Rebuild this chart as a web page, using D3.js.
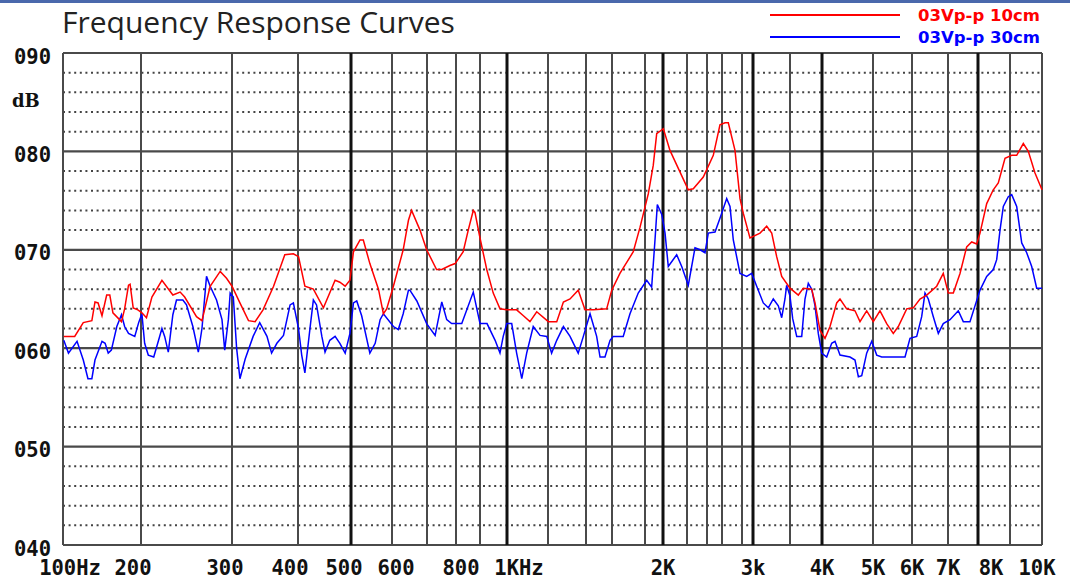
<!DOCTYPE html>
<html>
<head>
<meta charset="utf-8">
<script src="https://cdn.jsdelivr.net/npm/d3@7"></script>
<style>
body { margin: 0; background: #fff; }
svg { display: block; }
</style>
</head>
<body>
<svg id="chart" width="1070" height="580"></svg>
<script>
// frequencies (Hz) of the vertical grid lines, as printed on the sheet
var gridFreqs = [100, 200, 300, 400, 500, 600, 700, 800, 900, 1000,
    1200, 1400, 1600, 1800, 2000, 2200, 2400, 2600, 2800, 3000,
    3500, 4000, 5000, 6000, 7000, 8000, 9000, 10000];
var boldFreqs = [500, 1000, 2000, 3000, 4000, 8000];
var tickFreqs = [100, 200, 300, 400, 500, 600, 800, 1000, 2000, 3000, 4000, 5000, 6000, 7000, 8000, 10000];
var tickNames = ["100Hz", "200", "300", "400", "500", "600", "800", "1KHz", "2K", "3k", "4K", "5K", "6K", "7K", "8K", "10K"];
var dbTicks = [40, 50, 60, 70, 80, 90];
var seriesNames = ["03Vp-p 10cm", "03Vp-p 30cm"];

// [frequency Hz, level dB]
var red10cm = [
    [101, 61.2], [115, 61.2], [126, 62.6], [137, 62.8], [141, 64.7], [145, 64.6], [150, 63.3],
    [156, 65.4], [160, 65.4], [164, 63.6], [175, 62.7], [179, 64.0], [184, 66.4], [186, 66.5],
    [190, 64.1], [196, 63.9], [201, 63.6], [206, 63.1], [212, 65.2], [223, 66.9], [235, 65.4],
    [243, 65.7], [248, 65.2], [261, 63.2], [267, 62.8], [276, 66.3], [287, 67.8], [294, 67.1],
    [300, 66.3], [312, 64.6], [325, 62.8], [335, 62.7], [347, 63.9], [363, 66.3], [380, 69.5],
    [393, 69.6], [401, 69.3], [413, 66.3], [429, 66.0], [448, 64.1], [470, 66.9], [479, 66.7],
    [489, 66.3], [498, 66.9], [506, 69.8], [522, 71.0], [530, 71.0], [546, 68.6], [567, 66.0],
    [579, 63.5], [587, 64.0], [604, 66.3], [632, 70.0], [647, 73.0], [656, 74.0], [680, 72.0],
    [699, 70.0], [733, 68.0], [751, 68.0], [779, 68.4], [797, 68.6], [830, 69.8], [851, 72.0],
    [872, 74.0], [879, 73.8], [900, 71.2], [925, 68.0], [949, 65.6], [974, 64.0], [999, 63.9],
    [1047, 63.9], [1080, 63.3], [1112, 62.7], [1145, 63.7], [1202, 62.7], [1246, 62.7],
    [1281, 64.7], [1316, 65.0], [1359, 65.9], [1395, 63.9], [1456, 63.9], [1559, 64.0],
    [1598, 65.9], [1648, 67.6], [1729, 69.8], [1770, 72.3], [1837, 75.7], [1892, 78.6],
    [1930, 81.8], [2003, 82.3], [2058, 80.1], [2142, 77.9], [2213, 76.1], [2263, 76.2],
    [2363, 77.4], [2484, 79.6], [2573, 82.7], [2630, 82.9], [2663, 82.9], [2730, 80.1],
    [2780, 75.2], [2824, 73.7], [2945, 71.2], [3095, 71.7], [3185, 72.4], [3253, 71.7],
    [3320, 69.3], [3388, 67.3], [3500, 66.1], [3630, 65.4], [3708, 66.1], [3839, 66.0],
    [3891, 64.6], [3969, 61.8], [4059, 61.0], [4157, 62.2], [4288, 64.6], [4353, 65.0],
    [4484, 64.0], [4647, 63.8], [4745, 62.7], [4876, 63.8], [5008, 62.7], [5179, 63.8],
    [5351, 62.5], [5520, 61.5], [5649, 62.2], [5864, 64.0], [6036, 64.1], [6222, 65.0],
    [6408, 65.4], [6686, 66.3], [6869, 67.6], [7010, 65.6], [7177, 65.6], [7400, 67.6],
    [7623, 70.3], [7790, 70.8], [7957, 70.6], [8063, 71.7], [8272, 74.7], [8478, 76.1],
    [8634, 76.8], [8844, 79.3], [9053, 79.6], [9209, 79.6], [9416, 80.8], [9572, 80.0],
    [9781, 77.8], [10000, 76.1]
];

var blue30cm = [
    [101, 60.8], [107, 59.5], [118, 60.7], [126, 58.8], [132, 56.9], [137, 56.9], [141, 58.8],
    [150, 60.7], [154, 60.5], [158, 59.5], [162, 59.8], [169, 62.2], [175, 63.4], [179, 62.2],
    [184, 61.5], [192, 61.2], [197, 62.6], [201, 63.5], [204, 60.5], [208, 59.3], [214, 59.1],
    [219, 60.7], [223, 62.0], [226, 61.2], [230, 59.6], [235, 63.4], [239, 64.9], [246, 64.9],
    [250, 64.4], [257, 62.2], [263, 59.6], [267, 62.0], [272, 67.3], [276, 66.3], [283, 64.9],
    [289, 62.9], [292, 59.8], [296, 62.9], [298, 65.6], [302, 65.2], [307, 60.0], [312, 56.9],
    [320, 58.9], [332, 61.2], [342, 62.6], [353, 61.2], [360, 59.5], [368, 60.5], [378, 61.3],
    [388, 64.4], [393, 64.6], [401, 62.0], [407, 59.3], [413, 57.5], [423, 62.2], [429, 64.9],
    [435, 64.4], [445, 61.2], [451, 59.6], [460, 60.8], [470, 61.2], [479, 60.5], [489, 59.5],
    [498, 61.5], [506, 64.6], [514, 64.8], [526, 63.3], [546, 59.5], [559, 60.5], [571, 62.9],
    [579, 63.5], [604, 62.2], [618, 61.9], [632, 63.5], [647, 65.9], [651, 65.9], [671, 64.8],
    [699, 62.5], [728, 61.3], [751, 64.7], [768, 62.9], [785, 62.5], [824, 62.5], [872, 65.7],
    [900, 62.5], [926, 62.5], [956, 60.8], [974, 59.5], [986, 61.2], [999, 62.5], [1023, 62.5],
    [1047, 59.5], [1072, 56.9], [1096, 59.5], [1128, 62.2], [1161, 61.3], [1194, 61.2],
    [1219, 59.5], [1246, 60.8], [1281, 62.2], [1316, 61.2], [1359, 59.5], [1386, 61.2],
    [1431, 63.5], [1482, 61.2], [1508, 59.1], [1546, 59.1], [1585, 60.8], [1608, 61.2],
    [1668, 61.2], [1709, 63.5], [1759, 65.6], [1819, 66.9], [1874, 66.2], [1911, 71.0],
    [1937, 74.6], [1986, 73.6], [2017, 71.7], [2044, 68.3], [2114, 69.5], [2156, 68.3],
    [2213, 66.4], [2280, 70.2], [2330, 70.0], [2380, 69.7], [2417, 71.7], [2507, 71.8],
    [2573, 73.2], [2647, 75.2], [2680, 74.4], [2713, 71.0], [2780, 67.6], [2885, 67.3],
    [2976, 67.6], [3050, 66.3], [3139, 64.6], [3207, 64.1], [3274, 65.0], [3342, 64.3],
    [3388, 63.1], [3432, 65.0], [3455, 66.4], [3500, 65.3], [3542, 63.0], [3605, 61.2],
    [3683, 61.2], [3734, 65.0], [3786, 66.6], [3839, 66.0], [3891, 64.3], [3942, 61.5],
    [3995, 59.5], [4092, 59.1], [4190, 60.5], [4255, 60.7], [4353, 59.3], [4549, 59.1],
    [4647, 58.8], [4713, 57.1], [4779, 57.2], [4876, 59.5], [4975, 60.7], [5095, 59.3],
    [5223, 59.1], [5608, 59.1], [5821, 59.1], [5949, 61.0], [6131, 61.2], [6269, 63.2],
    [6361, 65.6], [6453, 65.0], [6592, 63.2], [6731, 61.5], [6869, 62.5], [7067, 62.9],
    [7343, 63.8], [7510, 62.7], [7733, 62.7], [7900, 64.3], [8063, 65.9], [8272, 67.3],
    [8478, 68.0], [8584, 69.0], [8688, 72.0], [8791, 74.4], [8947, 75.4], [9053, 75.6],
    [9209, 74.4], [9366, 70.7], [9522, 69.7], [9678, 68.3], [9834, 66.1], [10000, 66.1]
];

var margin = { left: 63, top: 53, right: 28, bottom: 35 };
var width = 1070, height = 580;
var plotW = width - margin.left - margin.right;
var plotH = height - margin.top - margin.bottom;

var svg = d3.select("#chart");

// the sheet's frequency axis is hand spaced, not logarithmic:
// offsets of each grid line from the left edge of the plot
var gridOffsets = [0, 78, 169, 235, 288, 329, 364, 393, 417, 444, 485, 523, 549, 582,
    600, 624, 644, 659, 679, 690, 727, 759, 810, 849, 885, 915, 947, 979];

var x = d3.scaleLinear()
    .domain(gridFreqs)
    .range(gridOffsets.map(function (o) { return margin.left + o * plotW / 979; }));
var y = d3.scaleLinear()
    .domain([40, 90])
    .range([margin.top + plotH, margin.top]);

function drawHeader() {
    svg.append("rect")
        .attr("x", 0).attr("y", 0)
        .attr("width", width).attr("height", 3)
        .attr("fill", "#4a68ac");
    svg.append("text")
        .attr("x", 62).attr("y", 33)
        .attr("font-family", "'Open Sans', sans-serif")
        .attr("font-size", 30)
        .attr("fill", "#222")
        .text("Frequency Response Curves");

    let colors = ["#ff0000", "#0000ff"];
    let legend = svg.append("g").attr("class", "legend")
        .selectAll("g")
        .data(seriesNames)
        .enter().append("g")
        .attr("transform", function (d, i) { return `translate(0,${15 + i * 22})`; });
    legend.append("line")
        .attr("x1", 770).attr("x2", 900)
        .attr("stroke", function (d, i) { return colors[i]; })
        .attr("stroke-width", 2);
    legend.append("text")
        .attr("x", 918).attr("y", 6)
        .attr("font-family", "'DejaVu Sans', sans-serif")
        .attr("font-weight", "bold")
        .attr("font-size", 16.5)
        .attr("fill", function (d, i) { return colors[i]; })
        .text(function (d) { return d; });
}

function drawGrid() {
    let grid = svg.append("g").attr("class", "grid");
    let steps = d3.range(40, 91, 2);
    let x0 = x.range()[0], x1 = x.range()[x.range().length - 1];

    grid.selectAll("line.minor")
        .data(steps.filter(function (d) { return d % 10 !== 0; }))
        .enter().append("line")
        .attr("class", "minor")
        .attr("x1", x0).attr("x2", x1)
        .attr("y1", y).attr("y2", y)
        .attr("stroke", "#444")
        .attr("stroke-width", 2)
        .attr("stroke-dasharray", "2,3.6");

    grid.selectAll("line.major")
        .data(dbTicks)
        .enter().append("line")
        .attr("class", "major")
        .attr("x1", x0).attr("x2", x1)
        .attr("y1", y).attr("y2", y)
        .attr("stroke", "#4a4a4a")
        .attr("stroke-width", 2.2);

    grid.selectAll("line.vert")
        .data(gridFreqs)
        .enter().append("line")
        .attr("class", "vert")
        .attr("x1", x).attr("x2", x)
        .attr("y1", y(90)).attr("y2", y(40))
        .attr("stroke", function (d) { return boldFreqs.indexOf(d) >= 0 ? "#111" : "#4a4a4a"; })
        .attr("stroke-width", function (d) { return boldFreqs.indexOf(d) >= 0 ? 3 : 2; });
}

function drawAxes() {
    let mono = "'DejaVu Sans Mono', monospace";
    let fmt = d3.format("03d");
    svg.append("g").attr("class", "y-labels")
        .selectAll("text")
        .data(dbTicks)
        .enter().append("text")
        .attr("x", 51)
        .attr("y", function (d) { return y(d) + 10.5; })
        .attr("text-anchor", "end")
        .attr("font-family", mono)
        .attr("font-weight", "bold")
        .attr("font-size", 20.5)
        .attr("fill", "#111")
        .text(fmt);

    svg.append("text")
        .attr("x", 12).attr("y", 107)
        .attr("font-family", "'DejaVu Serif', serif")
        .attr("font-weight", "bold")
        .attr("font-size", 18)
        .attr("fill", "#111")
        .text("dB");

    let nudge = { "100Hz": 7, "200": -8, "300": -7, "400": -8, "500": -7, "600": 4, "800": 5, "1KHz": 12, "8K": 13, "10K": -5 };
    svg.append("g").attr("class", "x-labels")
        .selectAll("text")
        .data(tickFreqs)
        .enter().append("text")
        .attr("x", function (d, i) { return x(d) + (nudge[tickNames[i]] || 0); })
        .attr("y", 575)
        .attr("text-anchor", "middle")
        .attr("font-family", mono)
        .attr("font-weight", "bold")
        .attr("font-size", 20.5)
        .attr("fill", "#111")
        .text(function (d, i) { return tickNames[i]; });
}

function drawCurves() {
    let line = d3.line()
        .x(function (d) { return x(d[0]); })
        .y(function (d) { return y(d[1]); });
    let curves = svg.append("g").attr("class", "curves");
    curves.append("path")
        .datum(blue30cm)
        .attr("d", line)
        .attr("fill", "none")
        .attr("stroke", "#0000ff")
        .attr("stroke-width", 1.5);
    curves.append("path")
        .datum(red10cm)
        .attr("d", line)
        .attr("fill", "none")
        .attr("stroke", "#ff0000")
        .attr("stroke-width", 1.5);
}

drawHeader();
drawGrid();
drawCurves();
drawAxes();
</script>
</body>
</html>
